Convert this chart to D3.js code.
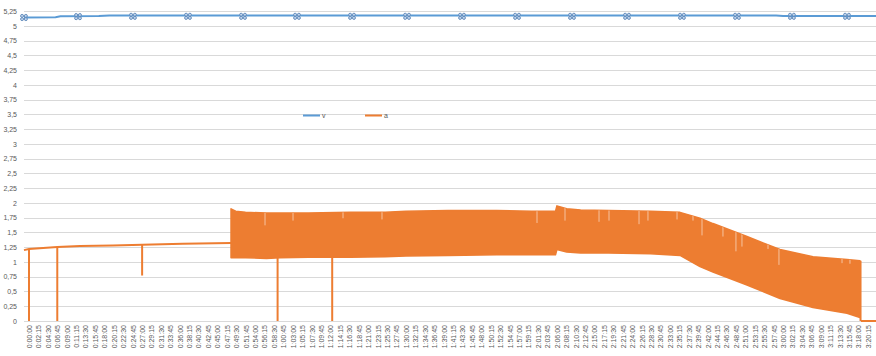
<!DOCTYPE html>
<html><head><meta charset="utf-8">
<script src="https://cdn.jsdelivr.net/npm/d3@7"></script>
<style>body{margin:0;background:#fff}svg{display:block}text{font-family:"Liberation Sans",Arial,sans-serif}</style>
</head><body>
<script>
// ---------- data ----------
const tickLabels = ["0:00:00","0:02:15","0:04:30","0:06:45","0:09:00","0:11:15","0:13:30","0:15:45","0:18:00","0:20:15","0:22:30","0:24:45","0:27:00","0:29:15","0:31:30","0:33:45","0:36:00","0:38:15","0:40:30","0:42:45","0:45:00","0:47:15","0:49:30","0:51:45","0:54:00","0:56:15","0:58:30","1:00:45","1:03:00","1:05:15","1:07:30","1:09:45","1:12:00","1:14:15","1:16:30","1:18:45","1:21:00","1:23:15","1:25:30","1:27:45","1:30:00","1:32:15","1:34:30","1:36:45","1:39:00","1:41:15","1:43:30","1:45:45","1:48:00","1:50:15","1:52:30","1:54:45","1:57:00","1:59:15","2:01:30","2:03:45","2:06:00","2:08:15","2:10:30","2:12:45","2:15:00","2:17:15","2:19:30","2:21:45","2:24:00","2:26:15","2:28:30","2:30:45","2:33:00","2:35:15","2:37:30","2:39:45","2:42:00","2:44:15","2:46:30","2:48:45","2:51:00","2:53:15","2:55:30","2:57:45","3:00:00","3:02:15","3:04:30","3:06:45","3:09:00","3:11:15","3:13:30","3:15:45","3:18:00","3:20:15"];
const yTicks = [0,0.25,0.5,0.75,1,1.25,1.5,1.75,2,2.25,2.5,2.75,3,3.25,3.5,3.75,4,4.25,4.5,4.75,5,5.25];
const seriesNames = ["v","a"];

// v (voltage) : time in seconds, value
const vTimes  = [-72, 380, 450, 1000, 1150, 4000, 8000, 10700, 10800, 12130];
const vValues = [5.14, 5.145, 5.16, 5.165, 5.175, 5.175, 5.172, 5.172, 5.166, 5.166];
const vMarkerTimes  = [-72, 702, 1489, 2277, 3065, 3838, 4626, 5414, 6201, 6989, 7776, 8564, 9351, 10139, 10926, 11714];
const vMarkerValues = [5.14, 5.155, 5.16, 5.16, 5.16, 5.16, 5.16, 5.16, 5.16, 5.16, 5.16, 5.16, 5.16, 5.16, 5.16, 5.16];

// a (current) : steady part before the oscillation
const aLineTimes  = [-72, 0, 405, 730, 1200, 1620, 2200, 2893];
const aLineValues = [1.20, 1.22, 1.255, 1.27, 1.28, 1.29, 1.31, 1.32];
// a : oscillating part, upper and lower envelope
const aBandTimes = [2893, 2960, 3100, 3400, 3600, 4000, 4600, 5100, 5400, 6000, 6700, 7200, 7540, 7560, 7700, 7900, 8300, 8900, 9323, 9609, 9795, 10282, 10755, 11227, 11714, 11900];
const aHigh      = [1.90, 1.86, 1.84, 1.83, 1.83, 1.83, 1.84, 1.84, 1.86, 1.87, 1.87, 1.86, 1.86, 1.95, 1.90, 1.88, 1.87, 1.86, 1.84, 1.74, 1.65, 1.43, 1.21, 1.09, 1.04, 1.02];
const aLow       = [1.07, 1.07, 1.07, 1.06, 1.07, 1.08, 1.08, 1.09, 1.10, 1.11, 1.12, 1.12, 1.12, 1.21, 1.17, 1.15, 1.15, 1.14, 1.11, 0.92, 0.83, 0.61, 0.38, 0.23, 0.13, 0.06];
// a : after the end
const aEndTimes  = [11914, 12130];
const aEndValues = [0, 0];
// a : single-sample drops
const spikeTimes = [0, 405, 1620, 3560, 4342, 11908];
const spikeFrom  = [1.22, 1.255, 1.29, 1.07, 1.08, 1.02];
const spikeTo    = [0, 0, 0.77, 0, 0, 0];
// a : short dips of the upper envelope inside the band
const notchTimes  = [3380, 3781, 4497, 5055, 7275, 7676, 8163, 8306, 8736, 8864, 9280, 9509, 9638, 9938, 10124, 10210, 10583, 10740, 11643, 11757];
const notchValues = [1.62, 1.70, 1.74, 1.72, 1.66, 1.70, 1.68, 1.70, 1.64, 1.70, 1.72, 1.70, 1.45, 1.43, 1.18, 1.26, 1.22, 0.95, 0.98, 0.97];

// ---------- chart ----------
const W = 876, H = 356;
const svg = d3.select("body").append("svg").attr("width", W).attr("height", H);
const plotL = 24, plotR = 876;
const toSec = s => { const p = s.split(":").map(Number); return p[0]*3600 + p[1]*60 + p[2]; };
const x = d3.scaleLinear().domain([0, toSec(tickLabels[tickLabels.length-1])]).range([29, 868]);
const y = d3.scaleLinear().domain([0, 5.25]).range([321, 11]);
const loc = d3.formatLocale({decimal: ",", thousands: ".", grouping: [3], currency: ["", ""]});
const fmt = loc.format("~f");
const blue = "#5B9BD5", orange = "#ED7D31";

// gridlines
svg.append("g").selectAll("line").data(yTicks).join("line")
  .attr("x1", plotL).attr("x2", plotR)
  .attr("y1", d => Math.round(y(d)) + 0.5).attr("y2", d => Math.round(y(d)) + 0.5)
  .attr("stroke", "#d9d9d9").attr("stroke-width", 1);

// y axis labels
const yAxis = d3.axisLeft(y).tickValues(yTicks).tickFormat(fmt).tickSize(0).tickPadding(0);
const gy = svg.append("g").attr("transform", "translate(17,0)").call(yAxis);
gy.select(".domain").remove();
gy.selectAll("text").attr("font-size", 7).attr("fill", "#595959").attr("font-family", "Liberation Sans, Arial, sans-serif");

// x axis labels
const xAxis = d3.axisBottom(x).tickValues(tickLabels.map(toSec)).tickFormat((d, i) => tickLabels[i]).tickSize(0).tickPadding(0);
const gx = svg.append("g").attr("transform", "translate(0,325)").call(xAxis);
gx.select(".domain").remove();
gx.selectAll("text").attr("transform", "rotate(-90)").attr("text-anchor", "end")
  .attr("x", 0).attr("y", 0).attr("dx", 0).attr("dy", "0.33em")
  .attr("font-size", 7).attr("fill", "#595959").attr("font-family", "Liberation Sans, Arial, sans-serif");

// a series
const line = d3.line().x(d => x(d[0])).y(d => y(d[1]));
const aLineData = aLineTimes.map((t, i) => [t, aLineValues[i]]);
svg.append("path").attr("d", line(aLineData)).attr("fill", "none").attr("stroke", orange).attr("stroke-width", 2);
const bandData = aBandTimes.map((t, i) => ({t, hi: aHigh[i], lo: aLow[i]}));
const area = d3.area().x(d => x(d.t)).y0(d => y(d.lo)).y1(d => y(d.hi));
svg.append("defs").append("clipPath").attr("id", "bandclip").append("path").attr("d", area(bandData));
svg.append("path").attr("d", area(bandData)).attr("fill", orange).attr("stroke", orange).attr("stroke-width", 1.5).attr("stroke-linejoin", "round");
svg.append("g").attr("clip-path", "url(#bandclip)").selectAll("line").data(notchTimes).join("line")
  .attr("x1", d => x(d)).attr("x2", d => x(d))
  .attr("y1", (d, i) => y(notchValues[i])).attr("y2", y(2.1))
  .attr("stroke", "#f6c3a0").attr("stroke-width", 1);
svg.append("path").attr("d", line(aEndTimes.map((t, i) => [t, aEndValues[i]]))).attr("fill", "none").attr("stroke", orange).attr("stroke-width", 2);
svg.append("g").selectAll("line").data(spikeTimes).join("line")
  .attr("x1", d => x(d)).attr("x2", d => x(d))
  .attr("y1", (d, i) => y(spikeFrom[i])).attr("y2", (d, i) => y(spikeTo[i]))
  .attr("stroke", orange).attr("stroke-width", 2);

// v series
svg.append("path").attr("d", line(vTimes.map((t, i) => [t, vValues[i]]))).attr("fill", "none").attr("stroke", blue).attr("stroke-width", 2);
const mk = svg.append("g").selectAll("g").data(vMarkerTimes).join("g")
  .attr("transform", (d, i) => `translate(${x(d)},${y(vMarkerValues[i])})`);
[[-1.9,-1.6],[1.9,-1.6],[-1.9,1.6],[1.9,1.6]].forEach(o => {
  mk.append("circle").attr("cx", o[0]).attr("cy", o[1]).attr("r", 1.5)
    .attr("fill", "#c5d7ee").attr("stroke", "#5a86b8").attr("stroke-width", 0.9);
});

// legend
const leg = svg.append("g");
const legX = [303, 365];
seriesNames.forEach((n, i) => {
  leg.append("line").attr("x1", legX[i]).attr("x2", legX[i] + 17).attr("y1", 115.5).attr("y2", 115.5)
    .attr("stroke", i === 0 ? blue : orange).attr("stroke-width", 2);
  leg.append("text").attr("x", legX[i] + 19).attr("y", 118).attr("font-size", 7).attr("fill", "#595959").text(n);
});
</script>
</body></html>
